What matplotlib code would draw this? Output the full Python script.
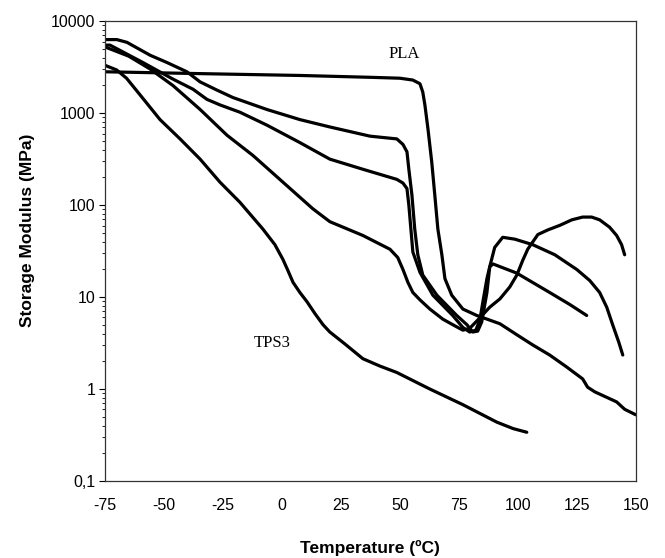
import numpy as np
import matplotlib
matplotlib.use("Agg")
import matplotlib.pyplot as plt

# temperature (C) and log10 of storage modulus (MPa)
pla_t = [-75, -34.7, 7.6, 37.3, 50, 55.5, 58.5, 59.7, 60.6, 61.9, 63.5, 64.8, 66.1, 67.8,
         69.1, 72.0, 76.7, 82.6, 92.4, 99.6, 106.3, 113.5, 120.7, 127.5, 129.6, 132.6,
         141.9, 145.3, 150]
pla_logE = [3.45, 3.43, 3.41, 3.39, 3.38, 3.36, 3.32, 3.23, 3.09, 2.83, 2.47, 2.11, 1.74, 1.46,
            1.20, 1.02, 0.87, 0.80, 0.71, 0.59, 0.48, 0.37, 0.24, 0.11, 0.02, -0.03,
            -0.14, -0.22, -0.28]

b1_t = [-75, -70, -65.7, -55.9, -48.7, -40.3, -34.7, -27.5, -20.8, -6.4, 7.6, 20.3, 37.3,
        48.7, 51.3, 53.0, 53.8, 55.1, 56.3, 57.6, 59.7, 65.7, 74.1, 78.4, 80.9, 83.0,
        84.7, 86.9, 88.1, 90.2, 93.6, 98.7, 106.3, 115.7, 125, 130.5, 134.7, 137.7, 140.2,
        142.8, 144.5]
b1_logE = [3.80, 3.80, 3.77, 3.63, 3.55, 3.45, 3.34, 3.25, 3.17, 3.04, 2.93, 2.85, 2.75,
           2.72, 2.66, 2.58, 2.39, 2.11, 1.74, 1.46, 1.24, 1.02, 0.80, 0.70, 0.62, 0.63,
           0.73, 1.05, 1.33, 1.54, 1.65, 1.63, 1.57, 1.46, 1.30, 1.18, 1.05, 0.89, 0.70,
           0.51, 0.37]

b2_t = [-75, -72.9, -58.9, -46.2, -37.7, -31.8, -26.3, -17.8, -6.4, 7.6, 20.3, 34.3, 48.7,
        51.3, 53.0, 53.8, 55.5, 58.5, 64, 72.4, 76.7, 79.6, 82.2, 83.9,
        85.2, 86.9, 88.1, 89.5, 99.6, 113.5, 122, 129.2]
b2_logE = [3.74, 3.74, 3.55, 3.37, 3.26, 3.15, 3.09, 3.01, 2.87, 2.68, 2.50, 2.39, 2.28,
           2.24, 2.18, 2.00, 1.49, 1.27, 1.02, 0.80, 0.67, 0.62, 0.64, 0.75,
           0.95, 1.20, 1.33, 1.36, 1.26, 1.05, 0.92, 0.80]

b3_t = [-75, -65, -55.9, -46.2, -34.7, -23.3, -12.3, 0.4, 13.1, 20.3, 34.3, 45.8, 49.1,
        51.3, 53.4, 55.5, 58.5, 62.7, 68.2, 72.4, 76.7, 79.6, 83.0, 88.1, 92.4, 96.6,
        99.6, 102.1, 104.2, 108.5, 112.7, 117.8, 122.9, 127.5, 131.3, 134.7, 138.9,
        141.9, 144.0, 145.3]
b3_logE = [3.72, 3.62, 3.48, 3.30, 3.04, 2.76, 2.54, 2.25, 1.96, 1.82, 1.67, 1.52, 1.43,
           1.30, 1.16, 1.05, 0.97, 0.87, 0.76, 0.70, 0.64, 0.66, 0.75, 0.89, 0.98, 1.11,
           1.24, 1.40, 1.52, 1.68, 1.73, 1.78, 1.84, 1.87, 1.87, 1.84, 1.76,
           1.67, 1.57, 1.46]

tps3_t = [-75, -70.1, -65.9, -60.2, -51.7, -43.2, -34.7, -26.3, -17.8, -8.1, -3.0, 0.4,
          2.5, 4.7, 7.6, 10.6, 14.0, 17.4, 20.3, 26.7, 34.3, 41.5, 48.7, 62.7, 76.7,
          91.1, 98.0, 103.8]
tps3_logE = [3.52, 3.47, 3.38, 3.20, 2.93, 2.72, 2.50, 2.25, 2.03, 1.74, 1.57, 1.41,
             1.29, 1.16, 1.05, 0.95, 0.82, 0.70, 0.62, 0.49, 0.33, 0.25, 0.18, 0.0, -0.17,
             -0.36, -0.43, -0.47]

x_ticks = [-75, -50, -25, 0, 25, 50, 75, 100, 125, 150]
y_ticks = [0.1, 1, 10, 100, 1000, 10000]
y_labels = ["0,1", "1", "10", "100", "1000", "10000"]

fig = plt.figure(figsize=(6.65, 5.58), dpi=100)
ax = fig.add_axes([0.158, 0.138, 0.798, 0.824])

for t, le in [(pla_t, pla_logE), (b1_t, b1_logE), (b2_t, b2_logE),
              (b3_t, b3_logE), (tps3_t, tps3_logE)]:
    ax.plot(t, 10 ** np.array(le), color="black", lw=2.3, solid_joinstyle="round",
            solid_capstyle="round")

ax.set_yscale("log")
ax.set_xlim(-75, 150)
ax.set_ylim(0.1, 10000)
ax.set_xticks(x_ticks)
ax.set_xticklabels([str(v) for v in x_ticks], family="Liberation Sans", fontsize=11.5)
ax.set_yticks(y_ticks)
ax.set_yticklabels(y_labels, family="Liberation Sans", fontsize=11.5)
ax.minorticks_on()
ax.tick_params(axis="x", which="both", length=0, pad=12)
ax.tick_params(axis="y", which="major", length=4, width=0.8, pad=3)
ax.tick_params(axis="y", which="minor", length=2, width=0.6)

for s in ax.spines.values():
    s.set_linewidth(0.9)
    s.set_color("#333333")

ax.set_xlabel("Temperature (ºC)", family="Liberation Sans", fontweight="bold",
              fontsize=12.5, labelpad=20)
ax.set_ylabel("Storage Modulus (MPa)", family="Liberation Sans", fontweight="bold",
              fontsize=12.5)
ax.yaxis.set_label_coords(-0.132, 0.546)

ax.text(52, 4400, "PLA", family="Liberation Serif", fontsize=12, ha="center", va="center")
ax.text(-4, 3.2, "TPS3", family="Liberation Serif", fontsize=12, ha="center", va="center")

fig.savefig("out.png", dpi=100)
